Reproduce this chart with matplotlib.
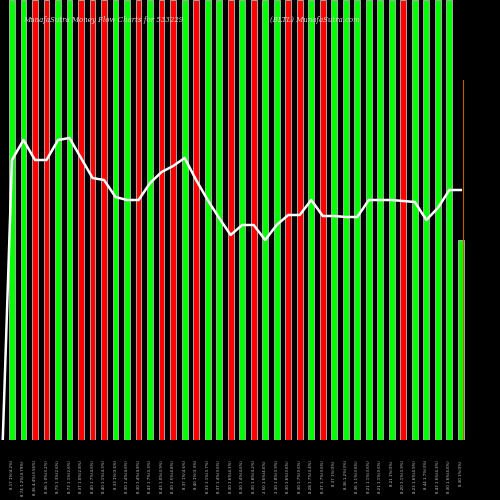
import matplotlib
matplotlib.use("Agg")
import matplotlib.pyplot as plt

# bar colours (g = up, r = down), last bar is partial
colors = list("GGRRGGRRRGGRGRRGRGGRG" + "RGGRRGRGGGGGGRGGGGG")
bar_heights = [440] * 39 + [200]
line_values = [0, 280, 300, 280, 280, 300, 302, 282, 262, 260, 243, 240, 240, 257,
               268, 274, 282, 260, 240, 222, 205, 215, 215, 200, 215, 225, 225,
               240, 224, 224, 223, 223, 240, 240, 240, 239, 238, 220, 232, 250, 250]
labels = ["8.17 1%(4.2%)", "8.74 1.2%(4.79%)", "8.36 4.4%(3.56%)", "8.36 1.0%(3.2%)",
          "8.79 1.3%(2.6%)", "8.73 1.1%(2.6%)", "8.37 1.0%(2.8%)", "8.40 1.7%(4.6%)",
          "8.40 1.1%(4.3%)", "8.33 1%(3.6%)", "8.30 1.4%(4.6%)", "8.30 1.4%(4.8%)",
          "8.43 1.7%(3.3%)", "8.43 1.0%(3.9%)", "8.30 1.5%(4.8%)", "8.37 1%(4.6%)",
          "8.40 1%(3.3%)", "8.33 1.1%(3.7%)", "8.37 1.4%(3.6%)", "8.30 1.6%(4.3%)",
          "8.30 1.4%(4.6%)", "8.30 1.8%(4.2%)", "2.50 1.6%(4.6%)", "2.30 1.8%(3.9%)",
          "8.30 1.6%(3.6%)", "8.30 1.7%(3.6%)", "8.28 1.7%(3.4%)", "8.37 1.7%(3.6%)",
          "8.37 1%(3%)", "8.36 1.2%(3%)", "8.36 1.1%(3.6%)", "8.21 1.1%(3.6%)",
          "8.21 1.1%(3.6%)", "8.21 1%(3%)", "8.20 1.1%(3.9%)", "8.23 1.6%(4.9%)",
          "8.44 1.7%(3%)", "8.43 1.6%(4.3%)", "8.30 1.6%(4.6%)", "8.30 1%(3%)"]

fig = plt.figure(figsize=(5, 5), dpi=100, facecolor="black")
ax = fig.add_axes([0, 0.12, 1, 0.88])
ax.set_facecolor("black")
ax.set_axis_off()

xs = list(range(len(colors)))
fill = ["#00ff00" if c == "G" else "#ff0000" for c in colors]
ax.bar(xs, bar_heights, width=0.5, color=fill, edgecolor="#bbbbbb", linewidth=0.6)
ax.plot([39.15, 39.15], [0, 360], color="#c06000", linewidth=0.8)
ax.plot([-0.8] + xs, line_values, color="white", linewidth=1.8)

ax.set_xlim(-1.04, 42.4)
ax.set_ylim(0, 440)

for x, lab in zip(xs, labels):
    ax.text(x, -20, lab, rotation=90, color="#cccccc", fontsize=2.8,
            ha="center", va="top", family="DejaVu Sans")

ax.text(1.0, 420, "MunafaSutra Money Flow Charts for 533229", color="#dddddd",
        fontsize=5, family="DejaVu Serif", style="italic", va="center")
ax.text(22.4, 420, "(BLTL) MunafaSutra.com", color="#dddddd",
        fontsize=5, family="DejaVu Serif", style="italic", va="center")

fig.savefig("out.png", facecolor="black")
